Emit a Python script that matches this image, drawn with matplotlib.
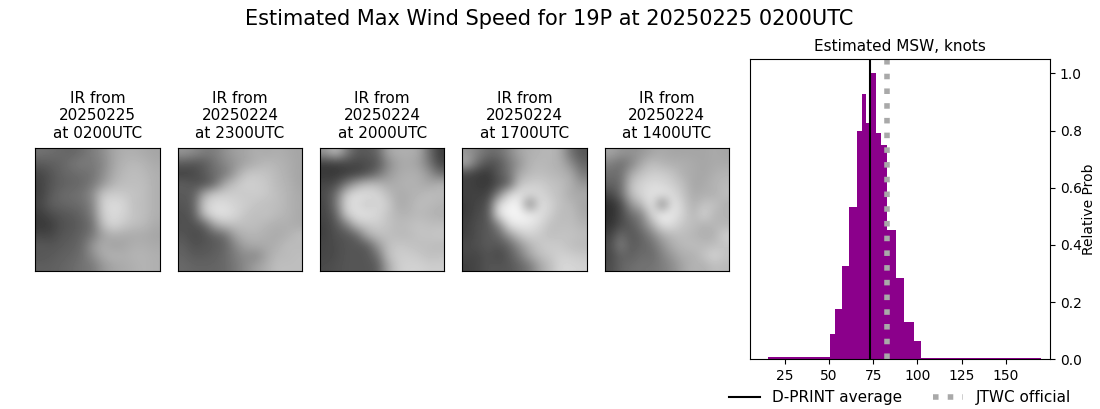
import matplotlib
matplotlib.use('Agg')
import matplotlib.pyplot as plt
import numpy as np

# histogram
edges = [15.4, 50.4, 53.2, 57.2, 61.2, 65.7, 68.5, 70.8, 73.6, 76.4, 79.2, 82.6, 87.7, 92.2, 97.8, 101.8, 169.6]
probs = [0.008, 0.089, 0.177, 0.326, 0.533, 0.80, 0.928, 0.826, 1.0, 0.791, 0.749, 0.452, 0.284, 0.131, 0.064, 0.005]
dprint_avg = 73.2
jtwc_official = 83

titles = ['IR from\n20250225\nat 0200UTC', 'IR from\n20250224\nat 2300UTC', 'IR from\n20250224\nat 2000UTC',
          'IR from\n20250224\nat 1700UTC', 'IR from\n20250224\nat 1400UTC']
x_ticks = [25, 50, 75, 100, 125, 150]
y_ticks = [0.0, 0.2, 0.4, 0.6, 0.8, 1.0]

# coarse grey levels of each IR image
ir_0200 = [[115, 110, 105, 100, 110, 125, 140, 165, 175, 175, 170, 165],
           [90, 95, 100, 115, 125, 120, 135, 165, 180, 185, 180, 170],
           [70, 85, 100, 105, 110, 115, 140, 170, 185, 190, 185, 175],
           [65, 85, 95, 100, 105, 120, 150, 180, 190, 190, 190, 175],
           [65, 90, 105, 110, 115, 140, 200, 205, 200, 195, 190, 175],
           [70, 95, 100, 105, 110, 130, 210, 220, 215, 190, 190, 175],
           [60, 75, 85, 90, 100, 125, 205, 220, 210, 195, 190, 175],
           [55, 60, 80, 85, 95, 110, 190, 215, 200, 190, 185, 170],
           [70, 70, 85, 90, 100, 120, 160, 175, 170, 170, 170, 165],
           [90, 85, 90, 95, 105, 150, 175, 160, 165, 175, 175, 170],
           [85, 90, 95, 100, 110, 140, 170, 180, 175, 180, 180, 175],
           [95, 95, 100, 105, 115, 120, 150, 165, 170, 175, 180, 175]]
ir_2300 = [[150, 140, 125, 125, 145, 160, 165, 175, 170, 175, 170, 165],
           [90, 85, 90, 115, 135, 150, 165, 175, 185, 180, 175, 165],
           [65, 70, 90, 110, 120, 160, 195, 200, 195, 185, 175, 165],
           [95, 85, 80, 105, 170, 195, 210, 205, 200, 185, 180, 165],
           [90, 95, 170, 205, 205, 205, 200, 205, 200, 190, 180, 170],
           [85, 95, 205, 220, 220, 210, 205, 195, 190, 190, 180, 170],
           [80, 90, 190, 225, 225, 215, 195, 190, 195, 185, 180, 170],
           [80, 80, 95, 165, 190, 190, 190, 190, 180, 175, 175, 170],
           [85, 75, 80, 95, 110, 165, 180, 180, 175, 170, 175, 190],
           [95, 80, 85, 90, 100, 135, 165, 170, 170, 175, 190, 185],
           [100, 90, 90, 95, 105, 125, 140, 135, 165, 185, 185, 190],
           [105, 100, 100, 100, 105, 120, 140, 160, 175, 190, 190, 190]]
ir_2000 = [[150, 190, 130, 90, 90, 100, 165, 175, 175, 170, 110, 60],
           [60, 60, 70, 70, 75, 85, 135, 165, 170, 160, 120, 70],
           [55, 55, 60, 65, 80, 110, 150, 170, 175, 175, 150, 110],
           [70, 75, 120, 165, 190, 185, 170, 175, 180, 175, 165, 180],
           [75, 110, 200, 225, 220, 215, 190, 170, 175, 180, 190, 185],
           [70, 115, 215, 220, 200, 215, 205, 170, 175, 190, 185, 180],
           [70, 95, 200, 225, 225, 215, 195, 180, 180, 185, 180, 175],
           [65, 85, 120, 190, 200, 205, 195, 185, 190, 195, 190, 190],
           [65, 80, 85, 100, 170, 190, 190, 185, 185, 195, 195, 200],
           [70, 75, 85, 85, 90, 150, 190, 200, 195, 190, 190, 185],
           [70, 75, 85, 85, 85, 110, 190, 205, 205, 200, 190, 195],
           [75, 80, 85, 85, 85, 90, 165, 205, 210, 210, 205, 205]]
ir_1700 = [[150, 130, 110, 110, 135, 165, 175, 180, 185, 170, 110, 85],
           [170, 110, 80, 85, 120, 150, 180, 185, 180, 175, 140, 100],
           [70, 60, 55, 90, 115, 170, 185, 190, 185, 180, 170, 120],
           [65, 60, 55, 75, 100, 195, 205, 205, 195, 190, 175, 150],
           [65, 65, 65, 130, 215, 225, 220, 215, 200, 190, 170, 170],
           [60, 70, 80, 220, 240, 245, 120, 225, 210, 190, 185, 165],
           [60, 75, 85, 225, 245, 245, 240, 225, 205, 185, 190, 170],
           [65, 80, 85, 130, 225, 235, 230, 215, 190, 190, 190, 180],
           [65, 80, 90, 100, 150, 195, 210, 200, 190, 195, 195, 190],
           [75, 80, 90, 85, 100, 145, 180, 200, 205, 200, 190, 185],
           [70, 70, 85, 70, 90, 120, 165, 190, 200, 210, 205, 200],
           [65, 70, 85, 85, 85, 100, 120, 165, 190, 215, 215, 210]]
ir_1400 = [[165, 150, 145, 150, 165, 170, 165, 165, 165, 165, 170, 165],
           [130, 110, 130, 170, 190, 180, 175, 175, 170, 165, 170, 170],
           [110, 110, 170, 195, 205, 205, 195, 175, 170, 165, 175, 180],
           [100, 105, 195, 210, 220, 215, 205, 190, 165, 170, 180, 185],
           [70, 105, 190, 215, 225, 230, 220, 195, 170, 175, 175, 190],
           [45, 70, 150, 185, 235, 120, 235, 205, 175, 195, 195, 175],
           [45, 70, 110, 130, 215, 240, 230, 210, 180, 215, 180, 180],
           [50, 75, 90, 120, 170, 225, 220, 195, 190, 175, 185, 180],
           [65, 110, 85, 100, 130, 170, 185, 190, 180, 175, 175, 210],
           [75, 130, 90, 100, 110, 145, 175, 185, 190, 185, 190, 195],
           [70, 100, 95, 110, 105, 130, 155, 175, 175, 195, 215, 195],
           [75, 100, 110, 115, 115, 125, 140, 165, 180, 175, 190, 185]]
images = [ir_0200, ir_2300, ir_2000, ir_1700, ir_1400]

W, H = 1100, 409
panel_left = [35.2, 177.8, 320, 462.2, 604.6]
panel_w = 124.4
panel_top, panel_bottom = 148, 271

fig = plt.figure(figsize=(11, 4.09), dpi=100)
fig.suptitle('Estimated Max Wind Speed for 19P at 20250225 0200UTC', fontsize=15, x=0.4995, y=0.978, va='top')

# IR panels
for left, img, title in zip(panel_left, images, titles):
    ax = fig.add_axes([left/W, 1-panel_bottom/H, panel_w/W, (panel_bottom-panel_top)/H])
    ax.imshow(np.array(img), cmap='gray', vmin=0, vmax=255, interpolation='bicubic', aspect='auto')
    ax.set_xticks([])
    ax.set_yticks([])
    ax.set_title(title, fontsize=11, pad=7.4)

# histogram panel
ax = fig.add_axes([750.2/W, 1-359.2/H, 300/W, 300/H])
ax.hist(edges[:-1], bins=edges, weights=probs, color='darkmagenta')
ax.axvline(dprint_avg, color='k', lw=1.5, label='D-PRINT average')
ax.axvline(jtwc_official, color='darkgray', lw=4, ls=':', label='JTWC official')
ax.set_xlim(5.5, 175)
ax.set_ylim(0, 1.05)
ax.set_xticks(x_ticks)
ax.set_yticks(y_ticks)
ax.yaxis.tick_right()
ax.yaxis.set_label_position('right')
ax.set_ylabel('Relative Prob', labelpad=0.4)
ax.set_title('Estimated MSW, knots', fontsize=11)
ax.legend(loc='upper center', bbox_to_anchor=(0.5, -0.058), ncol=2, frameon=False, fontsize=11)

fig.savefig('out.png', dpi=100)
